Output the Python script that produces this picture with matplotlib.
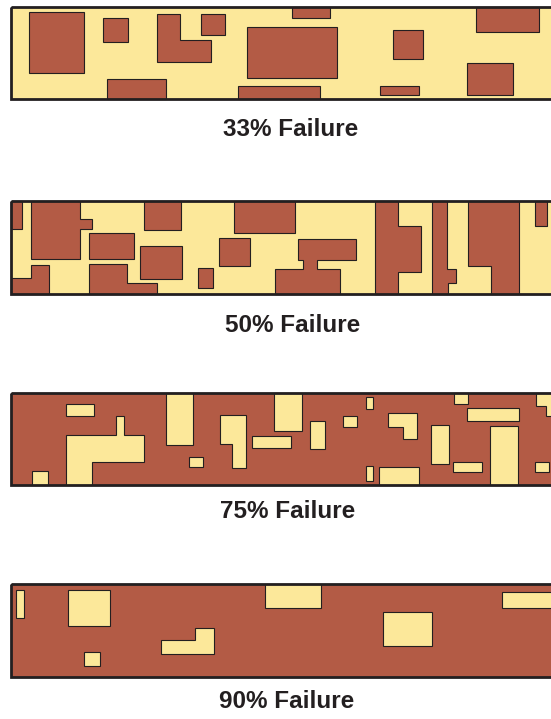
import matplotlib
matplotlib.use("Agg")
import matplotlib.pyplot as plt
from matplotlib.patches import Polygon, Rectangle
import matplotlib.patheffects as pe

plt.rcParams['font.family'] = ['Liberation Sans', 'DejaVu Sans']

BROWN = '#b35b45'
YELLOW = '#fce89a'
INK = '#231f20'


def rect(x0, y0, x1, y1):
    return [(x0, y0), (x1, y0), (x1, y1), (x0, y1)]


# strip frames: left, top, bottom (right side runs off the page)
LEFT = 10.5
RIGHT = 560
strip_tops = [7.0, 201.2, 393.0, 584.3]
strip_bots = [99.0, 293.7, 485.0, 676.7]
labels = ['33% Failure', '50% Failure', '75% Failure', '90% Failure']
label_x = [290.5, 293.0, 287.3, 286.7]
label_y = [136.5, 331.5, 518.5, 708.5]

# 33% -- failed (brown) blocks on a working (yellow) strip
t, b = strip_tops[0], strip_bots[0]
blocks_33 = [
    rect(29.3, 12.3, 84.3, 72.7),
    rect(102.7, 18.0, 127.7, 41.7),
    [(157.3, 14), (179.7, 14), (179.7, 40), (211.3, 40), (211.3, 62), (157.3, 62)],
    rect(201.3, 14.3, 224.7, 34.7),
    rect(246.7, 26.7, 336.7, 77.7),
    rect(107.0, 79.3, 166.3, b),
    rect(238.3, 85.7, 320.0, b),
    rect(292.3, t, 330.0, 17.7),
    rect(393.3, 30.3, 422.7, 59.0),
    rect(379.7, 86.0, 418.7, 94.7),
    rect(475.7, t, 539.3, 31.7),
    rect(467.3, 63.0, 513.0, 95.0),
]

# 50%
t, b = strip_tops[1], strip_bots[1]
blocks_50 = [
    rect(LEFT, t, 21.7, 229.3),
    [(30.7, t), (80.3, t), (80.3, 219.3), (92.3, 219.3), (92.3, 229.3),
     (80.3, 229.3), (80.3, 259.3), (30.7, 259.3)],
    [(LEFT, 278), (31.3, 278), (31.3, 265), (49.3, 265), (49.3, b), (LEFT, b)],
    rect(88.7, 233.3, 134.3, 258.7),
    rect(144.3, t, 180.7, 229.7),
    rect(140.3, 246.0, 181.7, 278.7),
    [(89.3, 264), (127, 264), (127, 283.3), (156.7, 283.3), (156.7, b), (89.3, b)],
    rect(197.7, 268.3, 212.7, 288.0),
    rect(219.0, 237.7, 250.0, 266.0),
    rect(234.3, t, 295.0, 232.7),
    [(298.3, 239), (355.7, 239), (355.7, 260.3), (317.3, 260.3), (317.3, 269.3),
     (339.7, 269.3), (339.7, b), (275, b), (275, 269.3), (303.3, 269.3),
     (303.3, 260.3), (298.3, 260.3)],
    [(374.7, t), (397.7, t), (397.7, 226), (420.7, 226), (420.7, 272.3),
     (397.7, 272.3), (397.7, b), (374.7, b)],
    [(432, t), (446.7, t), (446.7, 269), (455.7, 269), (455.7, 283.3),
     (447.7, 283.3), (447.7, b), (432, b)],
    [(468.3, t), (518.7, t), (518.7, b), (490.7, b), (490.7, 265.7), (468.3, 265.7)],
    rect(534.7, t, 546.7, 225.7),
]

# 75% -- working (yellow) blocks on a failed (brown) strip
t, b = strip_tops[2], strip_bots[2]
blocks_75 = [
    rect(66.3, 403.7, 93.7, 416.0),
    [(66, 435.3), (115.7, 435.3), (115.7, 416.3), (124.3, 416.3), (124.3, 435.3),
     (144.3, 435.3), (144.3, 462), (92.3, 462), (92.3, b), (66, b)],
    rect(32.0, 471.3, 48.0, b),
    rect(166.0, t, 192.7, 445.3),
    rect(189.3, 456.7, 202.7, 467.3),
    [(220.3, 414.7), (245.7, 414.7), (245.7, 468.3), (231.7, 468.3), (231.7, 444.3),
     (220.3, 444.3)],
    rect(251.7, 436.3, 291.3, 448.3),
    rect(274.3, t, 301.7, 430.7),
    rect(310.3, 420.7, 325.0, 449.0),
    rect(343.3, 416.3, 356.7, 427.3),
    rect(366.3, 397.3, 373.3, 408.7),
    rect(366.3, 465.7, 372.7, 480.7),
    rect(379.3, 466.7, 418.7, b),
    [(387.7, 413.3), (416.7, 413.3), (416.7, 439.3), (403.3, 439.3), (403.3, 426.7),
     (387.7, 426.7)],
    rect(430.7, 425.0, 448.7, 464.0),
    rect(454.3, t, 467.7, 403.7),
    rect(467.3, 407.7, 519.3, 420.7),
    rect(453.3, 462.3, 481.7, 471.7),
    rect(490.0, 425.7, 517.7, b),
    [(535.7, t), (RIGHT, t), (RIGHT, 415.7), (546.3, 415.7), (546.3, 405.7),
     (535.7, 405.7)],
    rect(535.3, 462.3, 548.7, 471.7),
]

# 90%
t, b = strip_tops[3], strip_bots[3]
blocks_90 = [
    rect(15.7, 589.7, 24.3, 618.3),
    rect(68.3, 589.7, 110.3, 626.3),
    rect(83.7, 651.7, 99.7, 666.3),
    [(160.7, 640), (195.3, 640), (195.3, 628.3), (214.3, 628.3), (214.3, 654.3),
     (160.7, 654.3)],
    rect(264.7, t, 321.3, 607.7),
    rect(382.7, 611.7, 432.3, 646.3),
    rect(502.0, 592.3, RIGHT, 608.0),
]

blocks = [blocks_33, blocks_50, blocks_75, blocks_90]
strip_colors = [YELLOW, YELLOW, BROWN, BROWN]
block_colors = [BROWN, BROWN, YELLOW, YELLOW]

fig = plt.figure(figsize=(5.51, 7.19), dpi=100)
ax = fig.add_axes([0, 0, 1, 1])
ax.set_xlim(0, 551)
ax.set_ylim(719, 0)
ax.axis('off')

shadow = [pe.SimplePatchShadow(offset=(0.8, -0.8), shadow_rgbFace='#3a2a20', alpha=0.35),
          pe.Normal()]

for i in range(4):
    top, bot = strip_tops[i], strip_bots[i]
    ax.add_patch(Rectangle((LEFT, top), RIGHT - LEFT, bot - top,
                           facecolor=strip_colors[i], edgecolor='none', zorder=1))
    for verts in blocks[i]:
        ax.add_patch(Polygon(verts, closed=True, facecolor=block_colors[i],
                             edgecolor=INK, linewidth=0.8, zorder=2,
                             path_effects=shadow))
    ax.add_patch(Rectangle((LEFT, top), RIGHT - LEFT, bot - top,
                           facecolor='none', edgecolor=INK, linewidth=2.0, zorder=3))
    ax.text(label_x[i], label_y[i], labels[i], ha='center', va='baseline',
            fontsize=17.5, fontweight='bold', color=INK)

fig.savefig('out.png', dpi=100)
